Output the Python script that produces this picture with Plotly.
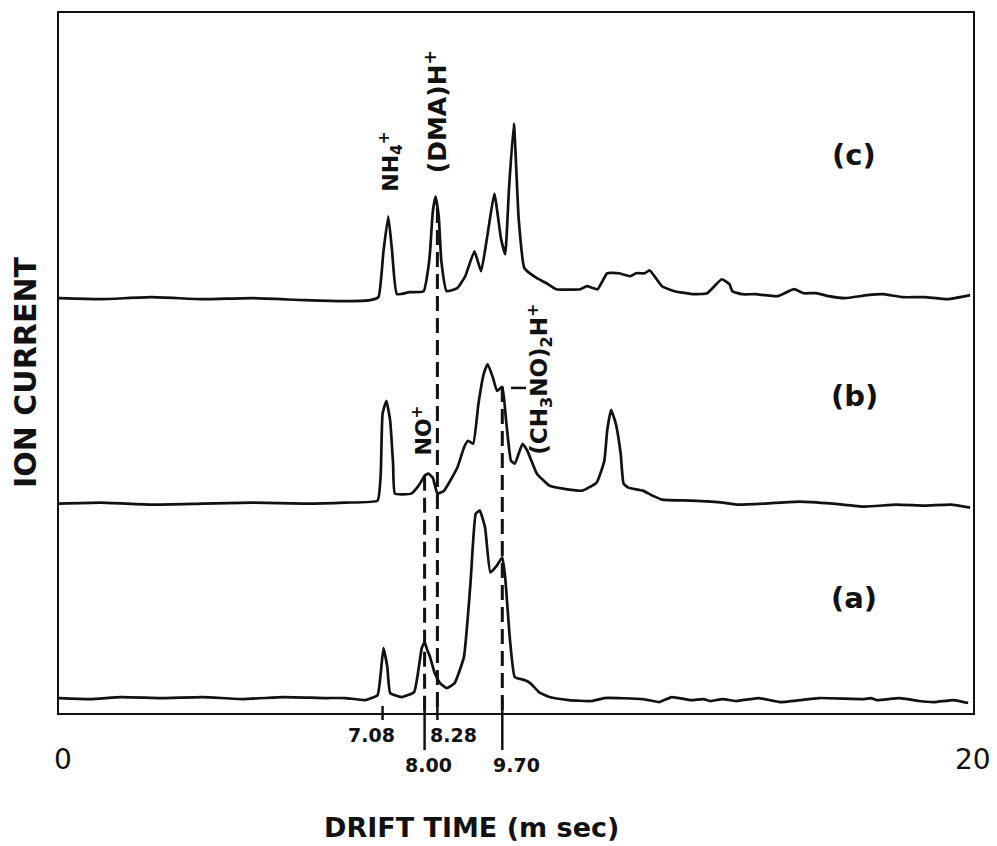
import numpy as np
import plotly.graph_objects as go

# Drift-time spectra, three runs stacked; ion current in arbitrary units above each baseline
t_a = [0.0, 0.69, 1.36, 2.25, 3.14, 4.03, 4.92, 5.81, 6.26, 6.70,
       6.97, 7.04, 7.10, 7.185, 7.247, 7.498, 7.77, 7.874, 7.937, 8.00,
       8.06, 8.12, 8.22, 8.338, 8.483, 8.657, 8.86, 9.004, 9.120, 9.207,
       9.323, 9.439, 9.584, 9.70, 9.763, 9.869, 9.974, 10.184, 10.311, 10.501,
       10.732, 11.153, 11.659, 11.933, 12.775, 13.133, 13.407, 13.828, 14.102, 14.249,
       14.523, 14.818, 15.303, 15.787, 16.630, 17.620, 17.768, 17.894, 18.399, 18.820,
       19.157, 19.578, 19.894]
i_a = [0, -1, 1, 0, 1, -1, 1, 0, 0, -2,
       3, 25, 50, 31, 5, 1, 6, 31, 50, 56,
       48, 41, 25, 15, 10, 15, 41, 115, 185, 188,
       171, 126, 133, 141, 121, 58, 21, 18, 15, 6,
       1, -2, -3, 0, -1, -4, 1, -2, -1, -3,
       -1, -3, 0, -4, 0, -1, 0, -2, 0, -3,
       -4, -2, -5]

t_b = [0.0, 0.91, 2.03, 3.14, 4.25, 5.37, 6.26, 6.97, 7.04, 7.08,
       7.164, 7.247, 7.31, 7.352, 7.707, 7.854, 7.937, 8.00, 8.08, 8.18,
       8.28, 8.425, 8.715, 8.86, 8.947, 9.062, 9.178, 9.294, 9.381, 9.497,
       9.584, 9.70, 9.784, 9.890, 9.974, 10.142, 10.248, 10.458, 10.732, 11.027,
       11.448, 11.764, 11.933, 11.995, 12.080, 12.185, 12.291, 12.354, 12.459, 12.775,
       12.986, 13.196, 13.828, 14.523, 14.818, 15.450, 16.208, 16.924, 17.620, 18.315,
       18.946, 19.515, 19.937]
i_b = [0, 1, -1, 0, 1, 0, 1, 3, 30, 90,
       103, 83, 40, 10, 10, 17, 23, 28, 30, 26,
       10, 13, 36, 56, 63, 60, 100, 130, 140, 126,
       113, 117, 83, 43, 40, 60, 53, 30, 18, 15,
       13, 21, 43, 73, 94, 80, 50, 20, 16, 13,
       8, 4, 3, 1, -1, 0, 2, 0, -3, -1,
       -2, -1, -4]

t_c = [0.0, 0.91, 2.03, 3.14, 4.25, 5.37, 6.26, 6.81, 6.99, 7.10,
       7.205, 7.289, 7.394, 7.665, 7.979, 8.08, 8.12, 8.18, 8.24, 8.309,
       8.367, 8.483, 8.715, 8.889, 9.091, 9.236, 9.381, 9.526, 9.671, 9.763,
       9.847, 9.953, 10.058, 10.184, 10.458, 10.669, 10.879, 11.406, 11.553, 11.785,
       11.995, 12.248, 12.501, 12.627, 12.817, 12.923, 13.196, 13.470, 13.891, 14.186,
       14.502, 14.671, 14.734, 14.945, 15.240, 15.724, 16.082, 16.293, 16.567, 16.840,
       17.198, 17.683, 18.041, 18.462, 18.946, 19.452, 19.937]
i_c = [0, -1, 1, -1, 0, -2, -3, -2, 1, 47,
       82, 47, 4, 6, 7, 30, 47, 87, 102, 82,
       37, 7, 10, 22, 47, 27, 65, 105, 60, 44,
       110, 175, 80, 30, 20, 15, 9, 9, 12, 9,
       25, 25, 22, 25, 25, 28, 12, 7, 4, 5,
       19, 14, 7, 4, 4, 2, 9, 5, 5, 2,
       0, 3, 4, 1, 1, -1, 3]

# vertical stacking of the three runs
offsets = {"a": 15, "b": 210, "c": 416}

# marked drift times on the time axis
tick_vals = [7.08, 8.00, 8.28, 9.70]
tick_text = ["7.08", "8.00", "8.28", "9.70"]
tick_long = [False, True, False, True]
tick_shift = [-11, 4, 16, 14]

# dashed guides: drift time and the run whose peak they drop from
guide_vals = [8.00, 8.28, 9.70]
guide_from = ["b", "c", "b"]

runs = {"a": (t_a, i_a), "b": (t_b, i_b), "c": (t_c, i_c)}

INK = "#111111"
FONT = "DejaVu Sans"

fig = go.Figure()
for key in ["a", "b", "c"]:
    t, i = runs[key]
    fig.add_trace(go.Scatter(
        x=t, y=np.array(i) + offsets[key], mode="lines",
        line=dict(color=INK, width=2.7, shape="spline", smoothing=0.4),
        showlegend=False, hoverinfo="skip"))

shapes = []
for val, key in zip(guide_vals, guide_from):
    t, i = runs[key]
    top = float(np.interp(val, t, i)) + offsets[key]
    shapes.append(dict(type="line", xref="x", yref="y", x0=val, x1=val,
                       y0=top, y1=0, line=dict(color=INK, width=3, dash="15px,7px")))

annotations = []
for val, txt, long_, sh in zip(tick_vals, tick_text, tick_long, tick_shift):
    if long_:
        y0, y1, ly = -0.053, 0.02, -0.074
    else:
        y0, y1, ly = -0.010, 0.010, -0.031
    shapes.append(dict(type="line", xref="x", yref="paper", x0=val, x1=val,
                       y0=y0, y1=y1, line=dict(color=INK, width=2.5)))
    annotations.append(dict(x=val, xref="x", y=ly, yref="paper", text=txt,
                            showarrow=False, xshift=sh, xanchor="center", yanchor="middle",
                            font=dict(family=FONT, size=19, color=INK, weight="bold")))

# leader from the dimer label toward its peak
shapes.append(dict(type="line", xref="x", yref="y", x0=9.89, x1=10.22, y0=326, y1=326,
                   line=dict(color=INK, width=2.5)))

# axis end values
for val, sh in [(0, 4), (20, 0)]:
    annotations.append(dict(x=val, xref="x", y=-0.066, yref="paper", text=str(val),
                            showarrow=False, xshift=sh, xanchor="center", yanchor="middle",
                            font=dict(family=FONT, size=28, color=INK)))

annotations.append(dict(x=0.4508, xref="paper", y=-0.163, yref="paper",
                        text="DRIFT TIME (m sec)", showarrow=False,
                        xanchor="center", yanchor="middle",
                        font=dict(family=FONT, size=27, color=INK, weight="bold")))
annotations.append(dict(x=-0.036, xref="paper", y=0.486, yref="paper",
                        text="ION CURRENT", showarrow=False, textangle=-90,
                        xanchor="center", yanchor="middle",
                        font=dict(family=FONT, size=30, color=INK, weight="bold")))

# run labels
for txt, x, y in [("(c)", 17.4, 560), ("(b)", 17.4, 318), ("(a)", 17.4, 115)]:
    annotations.append(dict(x=x, xref="x", y=y, yref="y", text=txt, showarrow=False,
                            xanchor="center", yanchor="middle",
                            font=dict(family=FONT, size=29, color=INK, weight="bold")))

# ion identifications
ion_labels = [
    ("NH<sub>4</sub><sup>+</sup>", 7.247, 553, 22),
    ("(DMA)H<sup>+</sup>", 8.26, 603, 25),
    ("NO<sup>+</sup>", 7.937, 283, 22),
    ("(CH<sub>3</sub>NO)<sub>2</sub>H<sup>+</sup>", 10.52, 335, 23),
]
for txt, x, y, size in ion_labels:
    annotations.append(dict(x=x, xref="x", y=y, yref="y", text=txt, showarrow=False,
                            textangle=-90, xanchor="center", yanchor="middle",
                            font=dict(family=FONT, size=size, color=INK, weight="bold")))

fig.update_layout(
    width=997, height=846,
    margin=dict(l=59, r=24, t=11, b=133),
    paper_bgcolor="white", plot_bgcolor="white",
    shapes=shapes, annotations=annotations,
    xaxis=dict(range=[0, 20], showline=True, mirror=True, linecolor=INK, linewidth=2,
               showticklabels=False, ticks="", showgrid=False, zeroline=False),
    yaxis=dict(range=[0, 702], showline=True, mirror=True, linecolor=INK, linewidth=2,
               showticklabels=False, ticks="", showgrid=False, zeroline=False),
)

fig.write_html("out.html")
